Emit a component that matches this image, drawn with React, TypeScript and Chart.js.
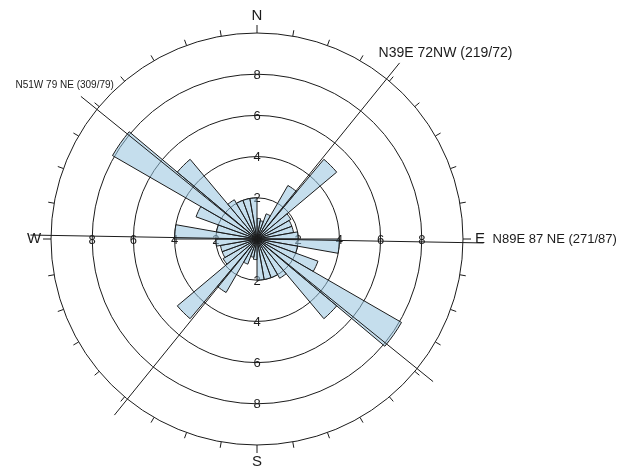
import React, { useEffect, useRef } from "react";
import { Chart, registerables } from "chart.js";

Chart.register(...registerables);

// Bin start azimuths (degrees from north, clockwise), 10° wide, 0–180.
const binStarts = [0, 10, 20, 30, 40, 50, 60, 70, 80, 90, 100, 110, 120, 130, 140, 150, 160, 170];
// Frequency per bin; the rose is bidirectional, so each bin is repeated 180° opposite.
const binValues = [1.0, 0.9, 1.3, 3.0, 5.05, 1.9, 1.8, 1.8, 2.0, 4.0, 2.0, 3.15, 8.1, 5.05, 2.2, 2.0, 2.0, 2.0];

const roseLabels = [...binStarts, ...binStarts.map((b) => b + 180)].map((b) => `${b}–${b + 10}°`);
const roseValues = [...binValues, ...binValues];

// Radial rings and their labels
const ringMax = 10;
const ringStep = 2;
const ringLabels = [2, 4, 6, 8];

// Compass points
const cardinalNames = ["N", "E", "S", "W"];
const cardinalAzimuths = [0, 90, 180, 270];

// Measured planes: label text and trend (first value in brackets)
const planeNames = ["N39E 72NW (219/72)", "N51W 79 NE (309/79)", "N89E 87 NE (271/87)"];
const planeTrends = [219, 309, 271];
const planeLength = 11; // half-length of each plane trace, in radial units

// Where each plane's caption sits relative to the end of its trace
const planeCaptionLayout = [
  { end: 180, align: "left" as CanvasTextAlign, dx: -21, dy: -10, size: 14 },
  { end: 0, align: "right" as CanvasTextAlign, dx: 33, dy: -11, size: 10 },
  { end: 180, align: "left" as CanvasTextAlign, dx: 9, dy: -4, size: 13 },
];

const FONT = "'Liberation Sans', Arial, Helvetica, sans-serif";
const INK = "#1b1b1b";

function polarPoint(scale: any, azimuthDeg: number, dist: number) {
  const a = ((azimuthDeg - 90) * Math.PI) / 180;
  return { x: scale.xCenter + Math.cos(a) * dist, y: scale.yCenter + Math.sin(a) * dist };
}

const roseUnderlay = {
  id: "roseUnderlay",
  beforeDatasetsDraw(chart: any) {
    const scale = chart.scales.r;
    const ctx = chart.ctx as CanvasRenderingContext2D;
    ctx.save();
    ctx.fillStyle = INK;
    ctx.font = `13px ${FONT}`;
    ctx.textAlign = "center";
    ctx.textBaseline = "middle";
    for (const v of ringLabels) {
      const d = scale.getDistanceFromCenterForValue(v);
      for (const az of cardinalAzimuths) {
        const p = polarPoint(scale, az, d);
        ctx.fillText(String(v), p.x, p.y + 1);
      }
    }
    ctx.restore();
  },
};

const roseOverlay = {
  id: "roseOverlay",
  afterDatasetsDraw(chart: any) {
    const scale = chart.scales.r;
    const ctx = chart.ctx as CanvasRenderingContext2D;
    const rOuter = scale.getDistanceFromCenterForValue(ringMax);
    ctx.save();
    ctx.strokeStyle = INK;
    ctx.fillStyle = INK;
    ctx.lineWidth = 1;

    // degree ticks on the outer ring
    for (let az = 0; az < 360; az += 10) {
      const len = az % 90 === 0 ? 8 : 6;
      const p0 = polarPoint(scale, az, rOuter);
      const p1 = polarPoint(scale, az, rOuter + len);
      ctx.beginPath();
      ctx.moveTo(p0.x, p0.y);
      ctx.lineTo(p1.x, p1.y);
      ctx.stroke();
    }

    // compass letters
    ctx.font = `15px ${FONT}`;
    ctx.textAlign = "center";
    ctx.textBaseline = "middle";
    cardinalNames.forEach((name, i) => {
      const p = polarPoint(scale, cardinalAzimuths[i], rOuter + 17);
      ctx.fillText(name, p.x, p.y);
    });

    // plane traces
    const half = scale.getDistanceFromCenterForValue(planeLength);
    planeTrends.forEach((trend, i) => {
      const a = polarPoint(scale, trend, half);
      const b = polarPoint(scale, trend + 180, half);
      ctx.beginPath();
      ctx.moveTo(a.x, a.y);
      ctx.lineTo(b.x, b.y);
      ctx.stroke();

      const lay = planeCaptionLayout[i];
      const e = polarPoint(scale, trend + lay.end, half);
      ctx.font = `${lay.size}px ${FONT}`;
      ctx.textAlign = lay.align;
      ctx.textBaseline = "middle";
      ctx.fillText(planeNames[i], e.x + lay.dx, e.y + lay.dy);
    });
    ctx.restore();
  },
};

export default function App() {
  const canvasRef = useRef<HTMLCanvasElement>(null);

  useEffect(() => {
    const canvas = canvasRef.current;
    if (!canvas) return;
    const chart = new Chart(canvas, {
      type: "polarArea",
      data: {
        labels: roseLabels,
        datasets: [
          {
            data: roseValues,
            backgroundColor: "rgba(150, 195, 222, 0.55)",
            borderColor: INK,
            borderWidth: 1,
          },
        ],
      },
      options: {
        responsive: false,
        maintainAspectRatio: false,
        devicePixelRatio: 1,
        animation: false,
        layout: { padding: { left: 51, right: 177, top: 33, bottom: 23 } },
        plugins: {
          legend: { display: false },
          tooltip: { enabled: false },
        },
        scales: {
          r: {
            min: 0,
            max: ringMax,
            startAngle: 0,
            ticks: { display: false, stepSize: ringStep },
            grid: { circular: true, color: INK, lineWidth: 1 },
            angleLines: { display: false },
            pointLabels: { display: false },
          },
        },
      },
      plugins: [roseUnderlay, roseOverlay],
    });
    return () => chart.destroy();
  }, []);

  return (
    <div style={{ position: "absolute", left: 0, top: 0, width: 641, height: 469, background: "#fff" }}>
      <canvas ref={canvasRef} width={641} height={469} style={{ display: "block", width: 641, height: 469 }} />
    </div>
  );
}
